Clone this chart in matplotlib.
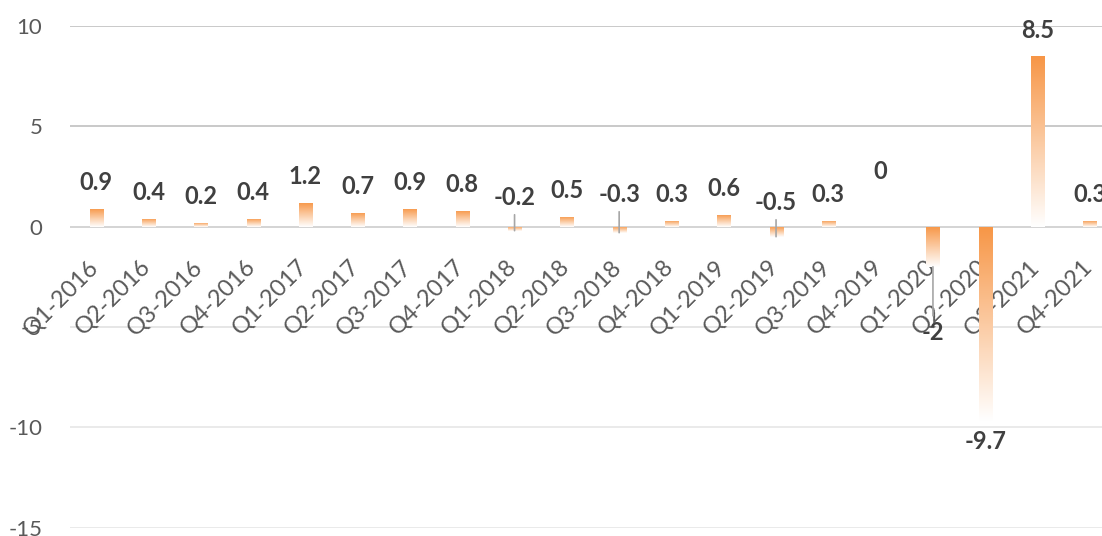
import matplotlib.pyplot as plt
import numpy as np
from matplotlib.colors import LinearSegmentedColormap
from matplotlib.transforms import ScaledTranslation

plt.rcParams['axes.unicode_minus'] = False

# Data
quarters = ['Q1-2016', 'Q2-2016', 'Q3-2016', 'Q4-2016',
            'Q1-2017', 'Q2-2017', 'Q3-2017', 'Q4-2017',
            'Q1-2018', 'Q2-2018', 'Q3-2018', 'Q4-2018',
            'Q1-2019', 'Q2-2019', 'Q3-2019', 'Q4-2019',
            'Q1-2020', 'Q2-2020', 'Q3-2021', 'Q4-2021']
growth = [0.9, 0.4, 0.2, 0.4,
          1.2, 0.7, 0.9, 0.8,
          -0.2, 0.5, -0.3, 0.3,
          0.6, -0.5, 0.3, 0,
          -2, -9.7, 8.5, 0.3]
yticks = [-15, -10, -5, 0, 5, 10]

orange = '#F79646'
label_color = '#404040'
tick_color = '#595959'
leader_color = '#A6A6A6'
fade = LinearSegmentedColormap.from_list('fade', ['#FFFFFF', orange])

# labels that were moved by hand in the original (offset in pixels from bar end)
moved = {'Q1-2018': 33, 'Q3-2018': 38, 'Q2-2019': 34, 'Q4-2019': 55, 'Q1-2020': -66}

W, H = 1102, 536
fig = plt.figure(figsize=(W / 100, H / 100), dpi=100)
ax = fig.add_axes([70 / W, (H - 527.7) / H, 1046 / W, (527.7 - 26) / H])

x = np.arange(len(quarters))
bars = ax.bar(x, growth, width=0.25, color='none', edgecolor='none', zorder=3)

# vertical gradient: orange at the top of each bar, white at the bottom
grad = np.linspace(0, 1, 256).reshape(-1, 1)
for b in bars:
    x0 = b.get_x()
    y0, y1 = sorted([b.get_y(), b.get_y() + b.get_height()])
    if y1 - y0 == 0:
        continue
    im = ax.imshow(grad, extent=[x0, x0 + b.get_width(), y0, y1], origin='lower',
                   cmap=fade, aspect='auto', zorder=3, interpolation='bilinear')
    im.set_clip_path(b)

ax.set_xlim(-0.5, len(quarters) - 0.5)
ax.set_ylim(-15, 10)
ax.set_yticks(yticks)

# gridlines (lighter below zero, as in the reference)
grid_colors = {10: '#C9C9C9', 5: '#C9C9C9', 0: '#D4D4D4', -5: '#E6E6E6', -10: '#EAEAEA', -15: '#EAEAEA'}
for t in yticks:
    ax.axhline(t, color=grid_colors[t], lw=1.4, zorder=1)

for s in ax.spines.values():
    s.set_visible(False)
ax.spines['bottom'].set_position(('data', 0))

ax.tick_params(axis='both', length=0, colors=tick_color)
ax.tick_params(axis='y', pad=20, labelsize=16)
ax.set_xticks(x)
ax.set_xticklabels(quarters, rotation=45, ha='right', va='top',
                   color=tick_color, fontsize=17)
ax.tick_params(axis='x', pad=21)
shift = ScaledTranslation(6 / 100, 0, fig.dpi_scale_trans)
for lab in ax.get_xticklabels():
    lab.set_transform(lab.get_transform() + shift)
for lab in ax.get_xticklabels() + ax.get_yticklabels():
    lab.set_fontfamily('Lato')

# data labels
for xi, q, v in zip(x, quarters, growth):
    arrow = None
    if q in moved:
        off = moved[q]
        if q != 'Q4-2019':
            arrow = dict(arrowstyle='-', color=leader_color, lw=1.2, shrinkA=2, shrinkB=0)
    else:
        off = 26 if v >= 0 else -20
    ax.annotate(f'{v:g}', xy=(xi, v), xytext=(0, off * 0.72), textcoords='offset points',
                ha='center', va='center', fontsize=17, fontweight='bold',
                color=label_color, family='Lato', arrowprops=arrow, zorder=4)

fig.savefig('out.png', dpi=100)
